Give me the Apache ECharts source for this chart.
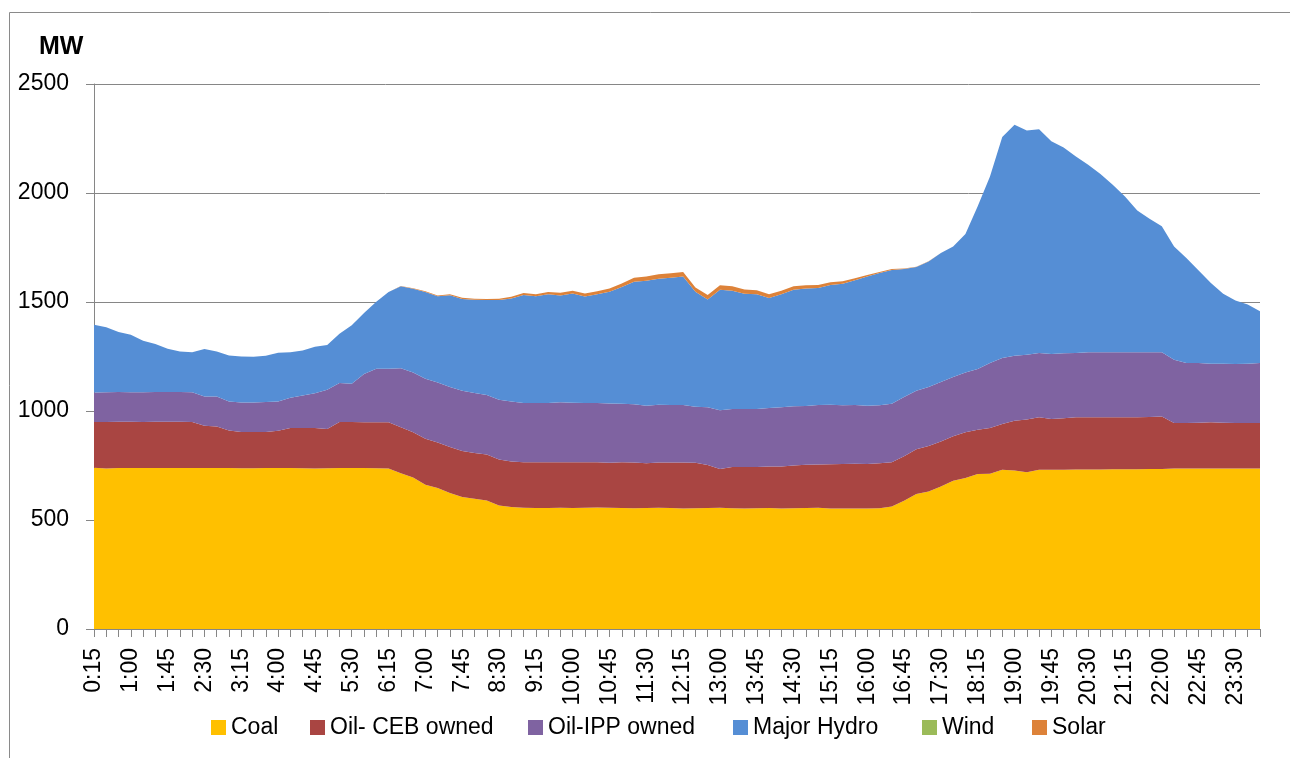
<!DOCTYPE html>
<html>
<head>
<meta charset="utf-8">
<script src="https://cdn.jsdelivr.net/npm/echarts@6/dist/echarts.min.js"></script>
<style>
html,body{margin:0;padding:0;background:#fff;}
#chart{width:1290px;height:758px;}
</style>
</head>
<body>
<div id="chart"></div>
<script>
var categories = [
 '0:15','0:30','0:45','1:00','1:15','1:30','1:45','2:00','2:15','2:30','2:45','3:00',
 '3:15','3:30','3:45','4:00','4:15','4:30','4:45','5:00','5:15','5:30','5:45','6:00',
 '6:15','6:30','6:45','7:00','7:15','7:30','7:45','8:00','8:15','8:30','8:45','9:00',
 '9:15','9:30','9:45','10:00','10:15','10:30','10:45','11:00','11:15','11:30','11:45','12:00',
 '12:15','12:30','12:45','13:00','13:15','13:30','13:45','14:00','14:15','14:30','14:45','15:00',
 '15:15','15:30','15:45','16:00','16:15','16:30','16:45','17:00','17:15','17:30','17:45','18:00',
 '18:15','18:30','18:45','19:00','19:15','19:30','19:45','20:00','20:15','20:30','20:45','21:00',
 '21:15','21:30','21:45','22:00','22:15','22:30','22:45','23:00','23:15','23:30','23:45','0:00'
];

var coal = [
 740,736,738,739,738,738,738,739,739,738,738,738,737,737,738,738,738,737,736,737,738,739,738,737,
 736,715,695,662,647,624,605,598,590,566,560,556,555,555,556,555,556,557,556,555,554,555,556,555,
 553,554,555,556,554,553,554,555,553,554,555,556,553,553,553,553,554,562,588,619,631,654,680,693,
 711,712,731,727,719,731,731,731,732,732,732,733,733,733,734,734,736,736,736,736,736,736,736,736
];

var oilCEB = [
 209,214,213,212,212,213,213,212,211,194,191,172,167,167,166,171,184,185,186,180,211,210,210,211,
 212,210,208,211,209,211,211,209,210,211,208,209,210,210,209,210,209,208,207,210,210,205,208,209,
 211,209,197,178,189,190,189,190,192,196,199,199,203,204,205,204,206,203,204,205,209,206,204,209,
 203,210,209,228,242,240,232,236,239,239,239,238,238,238,238,241,209,209,210,212,210,209,209,209
];

var oilIPP = [
 136,136,136,135,136,136,136,136,136,135,137,134,135,135,137,135,139,149,159,181,179,176,222,246,
 246,271,274,275,275,275,277,275,273,275,276,272,272,272,275,273,272,272,271,268,267,264,265,264,
 264,257,265,269,266,266,266,269,272,272,269,273,273,269,269,267,266,268,272,269,270,273,272,275,
 279,298,303,299,297,295,299,298,295,298,299,299,299,299,298,295,290,275,274,269,271,271,272,275
];

var majorHydro = [
 311,298,275,264,236,220,199,186,183,217,207,211,211,210,213,223,209,207,214,205,226,268,279,307,
 352,376,384,398,395,421,421,428,436,457,472,495,489,498,490,501,488,498,513,536,562,574,578,583,
 589,527,494,553,543,529,526,504,518,534,539,536,549,558,573,593,607,614,587,567,576,592,599,635,
 746,856,1014,1059,1029,1027,975,944,902,861,817,768,714,650,612,577,520,482,424,370,321,291,271,237
];

var wind = [
 0,0,0,0,0,0,0,0,0,0,0,0,0,0,0,0,0,0,0,0,0,0,0,0,
 0,0,0,0,0,0,0,0,0,0,0,0,0,0,0,0,0,0,0,0,0,0,0,0,
 0,0,0,0,0,0,0,0,0,0,0,0,0,0,0,0,0,0,0,0,0,0,0,0,
 0,0,0,0,0,0,0,0,0,0,0,0,0,0,0,0,0,0,0,0,0,0,0,0
];

var solar = [
 0,0,0,0,0,0,0,0,0,0,0,0,0,0,0,0,0,0,0,0,0,0,0,0,
 0,1,2,3,4,5,5,5,5,6,8,9,10,11,12,13,14,14,15,16,18,19,20,21,
 21,20,21,21,20,19,19,18,17,16,15,14,13,11,9,7,5,4,3,2,1,0,0,0,
 0,0,0,0,0,0,0,0,0,0,0,0,0,0,0,0,0,0,0,0,0,0,0,0
];

var seriesNames = ['Coal','Oil- CEB owned','Oil-IPP owned','Major Hydro','Wind','Solar'];
var seriesColors = ['#FFC000','#A94542','#7F63A1','#558ED5','#9BBB59','#DD8239'];
var yTicks = {min:0, max:2500, interval:500};

var font = '"Liberation Sans", Arial, sans-serif';
var dataSets = [coal, oilCEB, oilIPP, majorHydro, wind, solar];
var legendLeft = [211, 310, 528, 733, 922, 1032];

var chart = echarts.init(document.getElementById('chart'), null, {renderer:'canvas'});

var series = seriesNames.map(function(name, k){
  return {
    name: name,
    type: 'line',
    stack: 'total',
    data: dataSets[k],
    symbol: 'none',
    showSymbol: false,
    smooth: false,
    lineStyle: {width: 0, color: seriesColors[k]},
    areaStyle: {color: seriesColors[k], opacity: 1},
    itemStyle: {color: seriesColors[k]},
    emphasis: {disabled: true},
    animation: false
  };
});

var legends = seriesNames.map(function(name, k){
  return {
    left: legendLeft[k], top: 716, padding: 0,
    itemWidth: 15, itemHeight: 15,
    icon: 'rect',
    textStyle: {fontFamily: font, fontSize: 23, color: '#000'},
    data: [name]
  };
});

chart.setOption({
  animation: false,
  color: seriesColors,
  title: {
    text: 'MW', left: 39, top: 35, padding: 0,
    textStyle: {fontFamily: font, fontSize: 25, fontWeight: 'bold', color: '#000', lineHeight: 25}
  },
  graphic: [{
    type: 'rect', silent: true,
    shape: {x: 9.5, y: 12.5, width: 1500, height: 1000},
    style: {fill: 'none', stroke: '#8a8a8a', lineWidth: 1}
  }],
  legend: legends,
  grid: {left: 94, right: 30, top: 84, bottom: 129, containLabel: false, outerBoundsMode: 'none'},
  xAxis: {
    type: 'category',
    data: categories,
    boundaryGap: false,
    axisLine: {lineStyle: {color: '#868686', width: 1}},
    axisTick: {show: true, interval: 0, length: 8, lineStyle: {color: '#868686'}},
    axisLabel: {interval: 2, rotate: 90, margin: 19, fontFamily: font, fontSize: 23, color: '#000'},
    splitLine: {show: false}
  },
  yAxis: {
    type: 'value',
    min: yTicks.min, max: yTicks.max, interval: yTicks.interval,
    axisLine: {show: true, lineStyle: {color: '#868686', width: 1}},
    axisTick: {show: true, length: 8, lineStyle: {color: '#868686'}},
    axisLabel: {margin: 25, fontFamily: font, fontSize: 23, color: '#000',
      formatter: function(v){ return String(v); }},
    splitLine: {show: true, lineStyle: {color: '#868686', width: 1}}
  },
  series: series
});
</script>
</body>
</html>
